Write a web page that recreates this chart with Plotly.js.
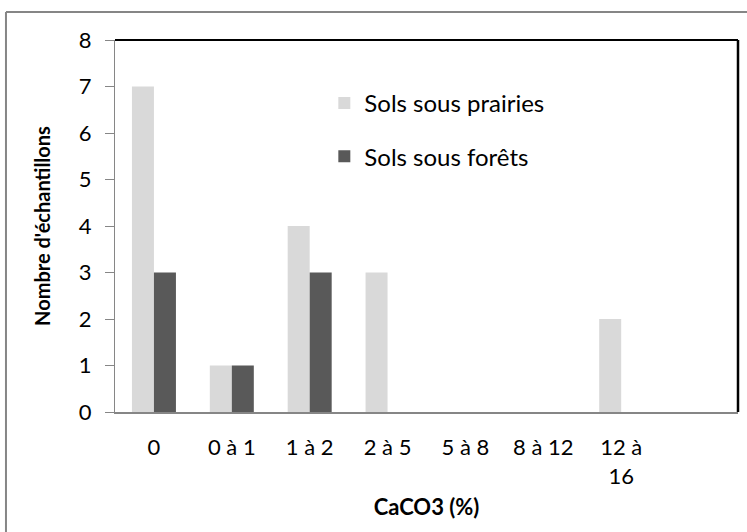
<!DOCTYPE html>
<html>
<head>
<meta charset="utf-8">
<script src="https://cdn.plot.ly/plotly-3.0.1.min.js"></script>
<style>
html,body{margin:0;padding:0;background:#fff;}
#chart{width:747px;height:532px;}
</style>
</head>
<body>
<div id="chart"></div>
<script>
const categories = ["0", "0 à 1", "1 à 2", "2 à 5", "5 à 8", "8 à 12", "12 à<br>16"];
const prairies = [7, 1, 4, 3, 0, 0, 2];
const forets = [3, 1, 3, 0, 0, 0, 0];
const seriesNames = ["Sols sous prairies", "Sols sous forêts"];
const yTicks = [0, 1, 2, 3, 4, 5, 6, 7, 8];

const FONT = "Lato, 'Open Sans', 'Liberation Sans', sans-serif";

const traces = [
  {type: "bar", x: categories, y: prairies, name: seriesNames[0], legendgroup: "a",
   marker: {color: "#d9d9d9"}, hoverinfo: "none"},
  {type: "bar", x: categories, y: forets, name: seriesNames[1], legendgroup: "b",
   marker: {color: "#595959"}, hoverinfo: "none"}
];

const layout = {
  width: 747, height: 532,
  margin: {l: 115, r: 9, t: 40, b: 120},
  paper_bgcolor: "#fff", plot_bgcolor: "#fff",
  font: {family: FONT, size: 22, color: "#000"},
  barmode: "group", bargap: 0.435, bargroupgap: 0,
  showlegend: true,
  legend: {x: 0.336, y: 0.89, xanchor: "left", yanchor: "top",
           bgcolor: "rgba(0,0,0,0)", font: {family: FONT, size: 24, color: "#000"},
           traceorder: "grouped", tracegroupgap: 19, itemwidth: 30},
  xaxis: {type: "category", range: [-0.5, 7.5], showgrid: false, zeroline: false,
          showline: true, linecolor: "#868686", linewidth: 2, ticks: "",
          tickfont: {family: FONT, size: 22}, automargin: false, ticklabelstandoff: 15,
          title: {text: "<b>CaCO3 (%)</b>", font: {family: FONT, size: 22}, standoff: 12}},
  yaxis: {range: [0, 8], tickvals: yTicks, showgrid: false, zeroline: false,
          showline: true, linecolor: "#868686", linewidth: 1,
          ticks: "outside", ticklen: 9, tickcolor: "#868686", tickwidth: 1,
          tickfont: {family: FONT, size: 22}, automargin: false, ticklabelstandoff: 9,
          title: {text: "<b>Nombre d'échantillons</b>", font: {family: FONT, size: 20}, standoff: 22}},
  shapes: [
    {type: "line", xref: "paper", yref: "paper", x0: 0, x1: 1, y0: 1, y1: 1,
     line: {color: "#000", width: 2}},
    {type: "line", xref: "paper", yref: "paper", x0: 1, x1: 1, y0: 0, y1: 1,
     line: {color: "#000", width: 2.5}},
    {type: "line", xref: "paper", yref: "paper", x0: -0.175, x1: 1.02, y0: 1.0753, y1: 1.0753,
     line: {color: "#868686", width: 2}},
    {type: "line", xref: "paper", yref: "paper", x0: -0.175, x1: -0.175, y0: 1.0753, y1: -0.33,
     line: {color: "#868686", width: 2}}
  ]
};

Plotly.newPlot("chart", traces, layout, {displayModeBar: false, staticPlot: true});
</script>
</body>
</html>
